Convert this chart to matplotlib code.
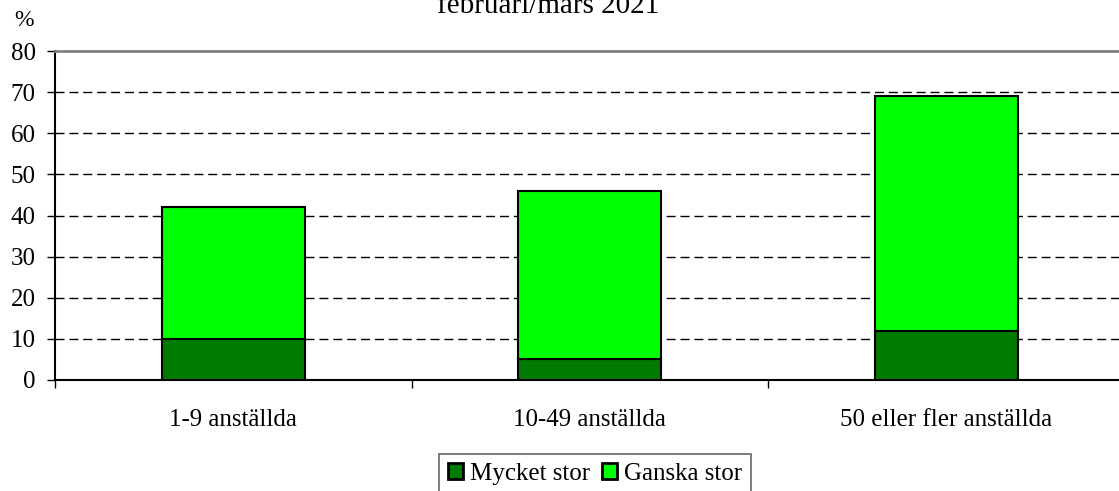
import matplotlib.pyplot as plt
import numpy as np

plt.rcParams['font.family'] = ['Liberation Serif', 'DejaVu Serif']

# Data
categories = ['1-9 anställda', '10-49 anställda', '50 eller fler anställda']
mycket_stor = [10, 5, 12]
ganska_stor = [32, 41, 57]
title = 'februari/mars 2021'

fig = plt.figure(figsize=(11.19, 4.91), dpi=100)
ax = fig.add_axes([55 / 1119, 1 - 380 / 491, 1069.5 / 1119, 329 / 491])

x = np.arange(len(categories))
ax.bar(x, mycket_stor, width=0.4, color='#007A00', edgecolor='black', linewidth=1.5,
       label='Mycket stor', zorder=3)
ax.bar(x, ganska_stor, width=0.4, bottom=mycket_stor, color='#00FF00', edgecolor='black',
       linewidth=1.5, label='Ganska stor', zorder=3)

ax.set_xlim(-0.5, len(categories) - 0.5)
ax.set_ylim(0, 80)
ax.set_yticks(range(0, 81, 10))
ax.tick_params(axis='y', labelsize=18, length=6, width=1, direction='out', pad=8)

# category labels without ticks, ticks between categories
ax.set_xticks(x)
ax.set_xticklabels(categories, fontsize=18)
ax.tick_params(axis='x', length=0, pad=21)
ax.set_xticks([-0.5, 0.5, 1.5], minor=True)
ax.tick_params(axis='x', which='minor', length=6, width=1, color='black')

for yv in range(10, 80, 10):
    ax.axhline(yv, color='black', linestyle=(0, (6.5, 3.5)), linewidth=1, zorder=1)

ax.spines['top'].set_color('#808080')
ax.spines['top'].set_linewidth(2)
ax.spines['bottom'].set_color('black')
ax.spines['bottom'].set_linewidth(1.5)
ax.spines['left'].set_color('black')
ax.spines['left'].set_linewidth(1.5)
ax.spines['right'].set_visible(False)

fig.text(24 / 1119, 1 - 20 / 491, '%', fontsize=17, ha='center', va='center')
fig.text(548 / 1119, 1 - 13 / 491, title, fontsize=21, ha='center', va='baseline')

leg = fig.legend(loc='upper left', bbox_to_anchor=(439 / 1119, 1 - 454 / 491), ncol=2,
                 fontsize=18, frameon=True, fancybox=False, edgecolor='#404040',
                 handlelength=0.6, handleheight=0.65, handletextpad=0.3, columnspacing=0.45,
                 borderpad=0.35, borderaxespad=0)
leg.get_frame().set_linewidth(1.2)
for h in leg.legend_handles:
    h.set_linewidth(2)

fig.savefig('out.png', dpi=100)
